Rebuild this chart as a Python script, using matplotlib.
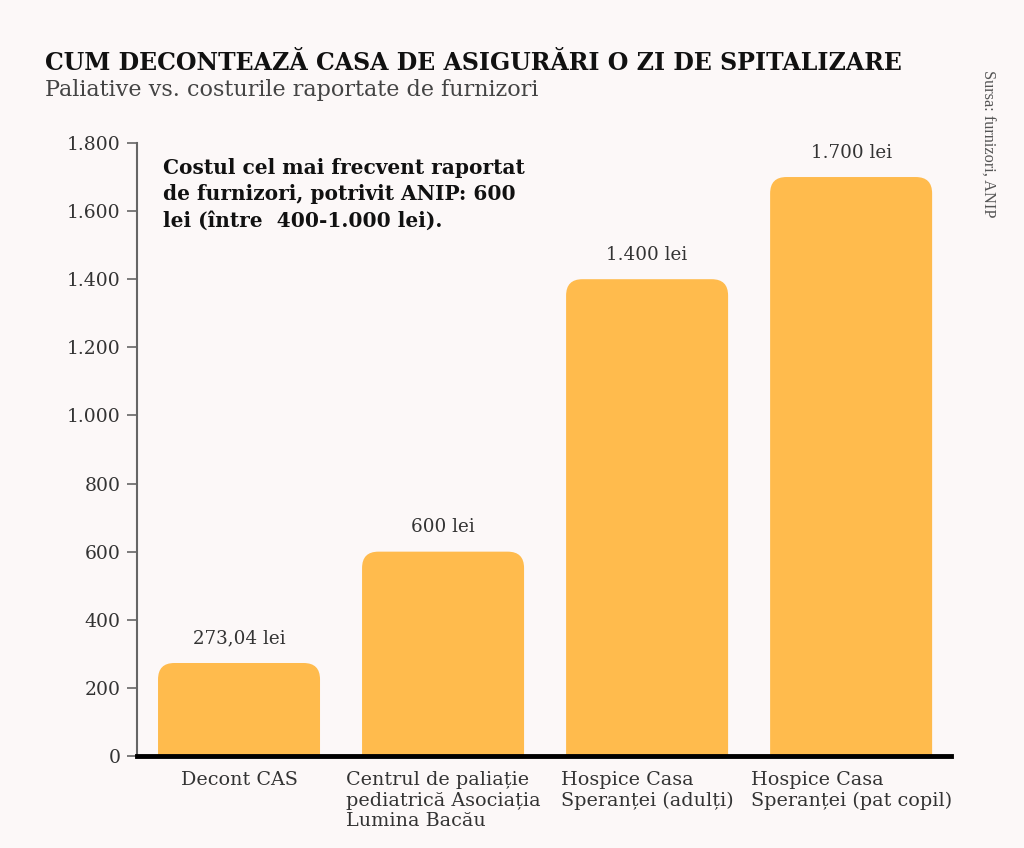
import matplotlib
matplotlib.use("Agg")
import matplotlib.pyplot as plt
from matplotlib.patches import FancyBboxPatch

# date
categorii = ["Decont CAS",
             "Centrul de paliație\npediatrică Asociația\nLumina Bacău",
             "Hospice Casa\nSperanței (adulți)",
             "Hospice Casa\nSperanței (pat copil)"]
valori = [273.04, 600, 1400, 1700]
etichete = ["273,04 lei", "600 lei", "1.400 lei", "1.700 lei"]
y_ticks = [0, 200, 400, 600, 800, 1000, 1200, 1400, 1600, 1800]
y_tick_labels = ["0", "200", "400", "600", "800", "1.000", "1.200", "1.400", "1.600", "1.800"]

fundal = "#fcf8f8"
portocaliu = "#ffbb4d"
font = "DejaVu Serif"

fig = plt.figure(figsize=(10.24, 8.48), dpi=100, facecolor=fundal)
ax = fig.add_axes([0.1338, 0.1085, 0.797, 0.7229], facecolor=fundal)

# bare invizibile, apoi bare cu colturi rotunjite
bare = ax.bar(range(len(valori)), valori, width=0.794, alpha=0)
for b in bare:
    p = FancyBboxPatch((b.get_x(), -200), b.get_width(), b.get_height() + 200,
                       boxstyle="round,pad=0,rounding_size=0.08",
                       mutation_aspect=600, facecolor=portocaliu,
                       edgecolor="none", zorder=2)
    ax.add_patch(p)

for i, (v, t) in enumerate(zip(valori, etichete)):
    ax.text(i, v + 72, t, ha="center", va="center", fontsize=13.2,
            color="#333333", family=font)

ax.set_xlim(-0.5, 3.5)
ax.set_ylim(0, 1800)
ax.set_yticks(y_ticks)
ax.set_yticklabels(y_tick_labels, family=font, fontsize=13.5, color="#333333")
ax.set_xticks(range(len(categorii)))
ax.set_xticklabels(categorii, family=font, fontsize=13.8, color="#333333",
                   multialignment="left", linespacing=1.17)
ax.tick_params(axis="x", length=0, pad=11)
ax.tick_params(axis="y", length=7, width=1.2, color="#666666", pad=5)

for s in ["top", "right", "bottom"]:
    ax.spines[s].set_visible(False)
ax.spines["left"].set_color("#666666")
ax.spines["left"].set_linewidth(1.5)
ax.axhline(0, color="black", lw=3.5, zorder=5, clip_on=False, xmax=0.997)

# nota
ax.text(0.032, 0.976, "Costul cel mai frecvent raportat\nde furnizori, potrivit ANIP: 600\nlei (între  400-1.000 lei).",
        transform=ax.transAxes, ha="left", va="top", fontsize=14.5,
        fontweight="bold", family=font, color="#111111", linespacing=1.42)

# titlu
fig.text(45 / 1024, 1 - 70 / 848, "CUM DECONTEAZĂ CASA DE ASIGURĂRI O ZI DE SPITALIZARE",
         ha="left", va="baseline", fontsize=17, fontweight="bold", family=font, color="#111111")
fig.text(45 / 1024, 1 - 96 / 848, "Paliative vs. costurile raportate de furnizori",
         ha="left", va="baseline", fontsize=16, family=font, color="#444444")
fig.text(987 / 1024, 1 - 70 / 848, "Sursa: furnizori, ANIP", rotation=-90,
         ha="center", va="top", fontsize=11.8, family="Liberation Serif", color="#555555")

fig.savefig("out.png", dpi=100, facecolor=fundal)
